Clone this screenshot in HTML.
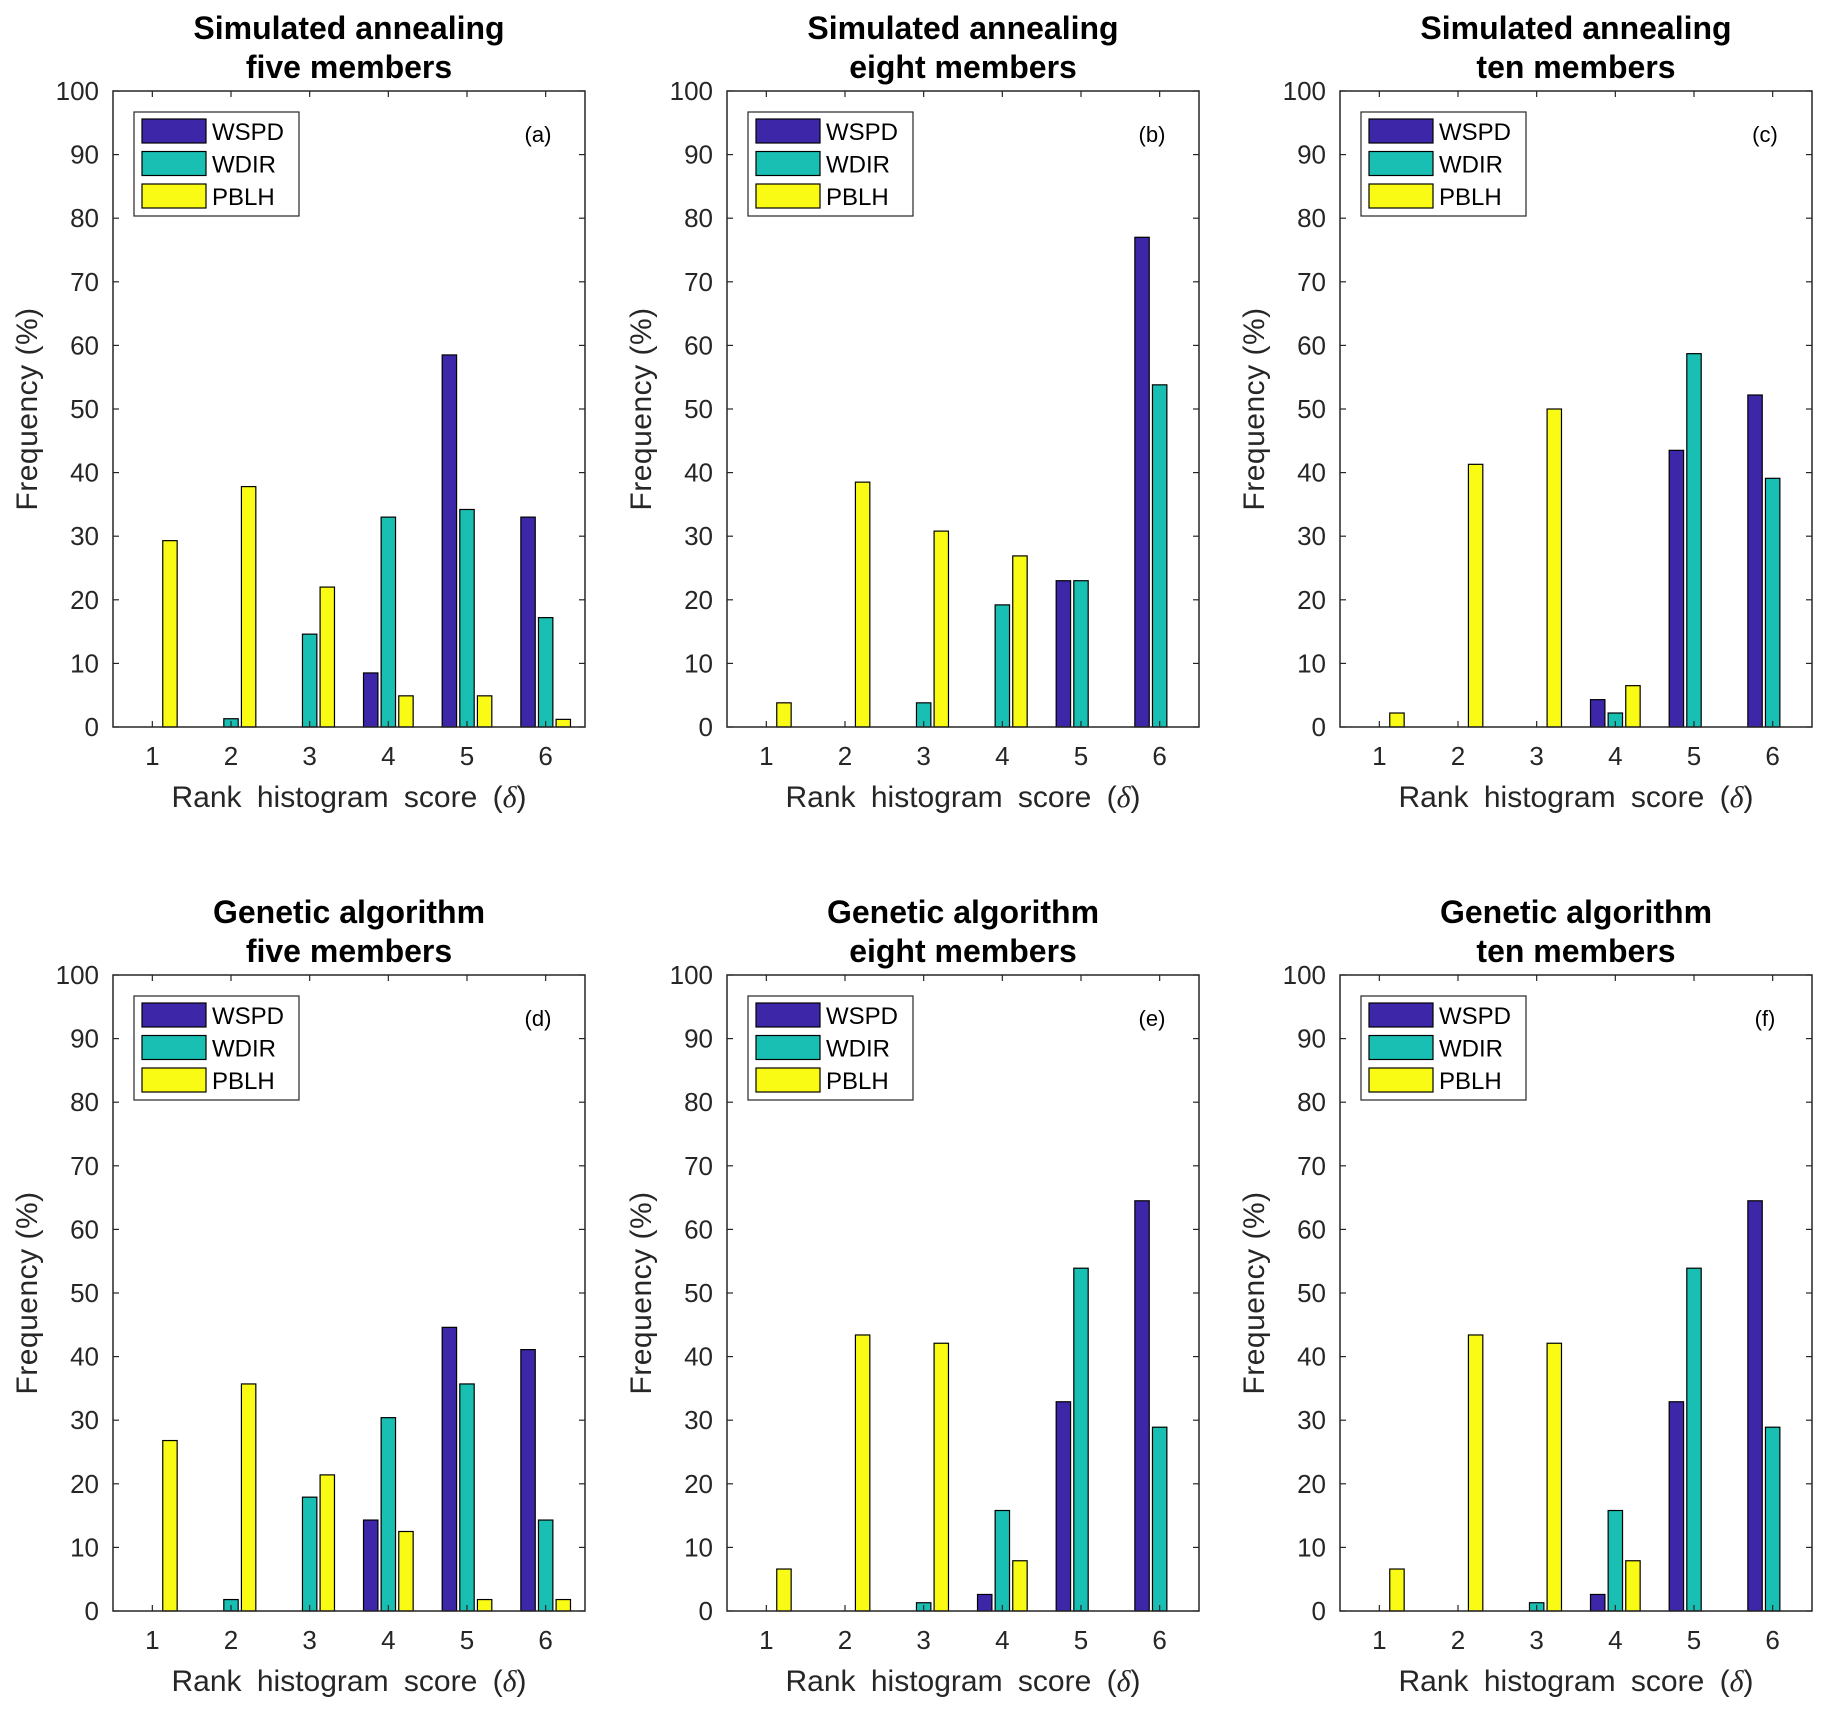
<!DOCTYPE html>
<html><head><meta charset="utf-8"><style>
html,body{margin:0;padding:0;background:#fff;}
svg{display:block;font-family:"Liberation Sans",sans-serif;}
</style></head><body>
<svg id="fig" width="1822" height="1711" viewBox="0 0 1822 1711" xmlns="http://www.w3.org/2000/svg"></svg>
<script>
const categories = [1,2,3,4,5,6];
const yTicks = [0,10,20,30,40,50,60,70,80,90,100];
const seriesNames = ["WSPD","WDIR","PBLH"];
const panelLabels = ["(a)","(b)","(c)","(d)","(e)","(f)"];
const titles1 = ["Simulated annealing","Simulated annealing","Simulated annealing","Genetic algorithm","Genetic algorithm","Genetic algorithm"];
const titles2 = ["five members","eight members","ten members","five members","eight members","ten members"];
const wspdA = [0,0,0,8.5,58.5,33];
const wdirA = [0,1.3,14.6,33,34.2,17.2];
const pblhA = [29.3,37.8,22,4.9,4.9,1.2];
const wspdB = [0,0,0,0,23,77];
const wdirB = [0,0,3.8,19.2,23,53.8];
const pblhB = [3.8,38.5,30.8,26.9,0,0];
const wspdC = [0,0,0,4.3,43.5,52.2];
const wdirC = [0,0,0,2.2,58.7,39.1];
const pblhC = [2.2,41.3,50,6.5,0,0];
const wspdD = [0,0,0,14.3,44.6,41.1];
const wdirD = [0,1.8,17.9,30.4,35.7,14.3];
const pblhD = [26.8,35.7,21.4,12.5,1.8,1.8];
const wspdE = [0,0,0,2.6,32.9,64.5];
const wdirE = [0,0,1.3,15.8,53.9,28.9];
const pblhE = [6.6,43.4,42.1,7.9,0,0];
const wspdF = [0,0,0,2.6,32.9,64.5];
const wdirF = [0,0,1.3,15.8,53.9,28.9];
const pblhF = [6.6,43.4,42.1,7.9,0,0];

const panelData = [[wspdA,wdirA,pblhA],[wspdB,wdirB,pblhB],[wspdC,wdirC,pblhC],[wspdD,wdirD,pblhD],[wspdE,wdirE,pblhE],[wspdF,wdirF,pblhF]];
const colors = ["#3e26a8","#1abfb3","#f9fb15"];
const NS = "http://www.w3.org/2000/svg";
const svg = document.getElementById("fig");
function mk(tag, attrs, parent){const e=document.createElementNS(NS,tag);for(const k in attrs)e.setAttribute(k,attrs[k]);(parent||svg).appendChild(e);return e;}

const W = 472, H = 636;
const lefts = [113,727,1340];
const tops = [91,975];

panelData.forEach((series, p) => {
  const L = lefts[p%3], T = tops[Math.floor(p/3)], B = T+H, R = L+W;
  const g = mk("g",{});
  
  
  const xS = v => L + (v-0.5)/6*W;
  const yS = v => B - v/100*H;
  const t = mk("text",{x:L+W/2,y:T-52,"text-anchor":"middle","font-size":32,"font-weight":"bold",fill:"#000"},g);
  t.textContent = titles1[p];
  
  
  const t2 = mk("text",{x:L+W/2,y:T-13,"text-anchor":"middle","font-size":32,"font-weight":"bold",fill:"#000"},g);
  t2.textContent = titles2[p];
  
  
  const bw = 0.183, off = 0.224;
  series.forEach((vals, s) => {
    vals.forEach((v, i) => {
      if (v <= 0) return;
      const cx = categories[i] + (s-1)*off;
      const r = mk("rect",{x:xS(cx-bw/2),y:yS(v),width:xS(cx+bw/2)-xS(cx-bw/2),height:yS(0)-yS(v),fill:colors[s],stroke:"#000","stroke-width":1.2},g);
      
      
    });
  });
  const box = mk("rect",{x:L,y:T,width:W,height:H,fill:"none",stroke:"#262626","stroke-width":1.5},g);
  
  
  yTicks.forEach(v => {
    const y = yS(v);
    mk("line",{x1:L,x2:L+6,y1:y,y2:y,stroke:"#262626","stroke-width":1.2},g);
    mk("line",{x1:R,x2:R-6,y1:y,y2:y,stroke:"#262626","stroke-width":1.2},g);
    const tl = mk("text",{x:L-14,y:y+9,"text-anchor":"end","font-size":26,fill:"#262626"},g);
    tl.textContent = v;
    
    
  });
  categories.forEach(c => {
    const x = xS(c);
    mk("line",{x1:x,x2:x,y1:B,y2:B-6,stroke:"#262626","stroke-width":1.2},g);
    mk("line",{x1:x,x2:x,y1:T,y2:T+6,stroke:"#262626","stroke-width":1.2},g);
    const tl = mk("text",{x:x,y:B+38,"text-anchor":"middle","font-size":26,fill:"#262626"},g);
    tl.textContent = c;
    
    
  });
  const xl = mk("text",{x:L+W/2,y:B+80,"text-anchor":"middle","font-size":30,"word-spacing":7,fill:"#262626"},g);
  xl.innerHTML = 'Rank histogram score (<tspan font-style="italic" font-family="Liberation Serif">δ</tspan>)';
  
  
  const yl = mk("text",{x:0,y:0,transform:`translate(${L-76},${T+H/2}) rotate(-90)`,"text-anchor":"middle","font-size":30,"letter-spacing":0.5,fill:"#262626"},g);
  yl.textContent = "Frequency (%)";
  
  
  const pl = mk("text",{x:R-47,y:T+51,"text-anchor":"middle","font-size":22,fill:"#000"},g);
  pl.textContent = panelLabels[p];
  
  
  const lg = mk("g",{},g);
  
  
  mk("rect",{x:L+21,y:T+21,width:165,height:104,fill:"#fff",stroke:"#262626","stroke-width":1.2},lg);
  seriesNames.forEach((n,s) => {
    const yy = T+28+s*32.5;
    const sw = mk("rect",{x:L+29,y:yy,width:64,height:24,fill:colors[s],stroke:"#000","stroke-width":1.2},lg);
    
    
    const lt = mk("text",{x:L+99,y:yy+21,"font-size":24,fill:"#000"},lg);
    lt.textContent = n;
    
    
  });
});
</script>
</body></html>
